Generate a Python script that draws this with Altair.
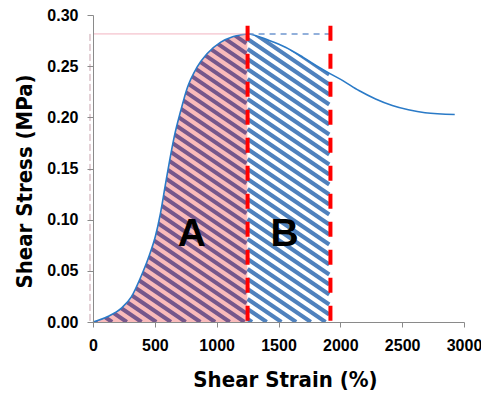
import altair as alt
import pandas as pd

# ---- data ----
strain = [0, 120, 230, 310, 390, 455, 505, 545, 585, 620, 655, 710, 760, 840, 920,
          1030, 1135, 1250, 1430, 1560, 1700, 1830, 1920, 2020, 2150, 2285, 2420,
          2550, 2685, 2925]
stress = [0, 0.0054, 0.0136, 0.0245, 0.045, 0.065, 0.084, 0.106, 0.134, 0.158,
          0.18, 0.2067, 0.228, 0.2488, 0.2619, 0.2732, 0.279, 0.2815, 0.2748,
          0.2683, 0.2586, 0.2488, 0.2425, 0.2359, 0.2262, 0.218, 0.2116, 0.2074,
          0.2045, 0.2028]

region_names = ["A", "B"]
region_start = [0, 1250]
region_end = [1250, 1920]
region_label_x = [800, 1550]
region_label_y = [0.074, 0.074]
region_fill = ["#f9bbbb", "#ffffff"]
region_stripe = ["#76578b", "#4f81bd"]

peak_strain = 1250
peak_stress = 0.2815
marker_top = 0.2895

x_ticks = [0, 500, 1000, 1500, 2000, 2500, 3000]
y_ticks = [0.0, 0.05, 0.10, 0.15, 0.20, 0.25, 0.30]

# ---- layout ----
W, H = 371, 307
XMAX, YMAX = 3000, 0.30
sx, sy = W / XMAX, H / YMAX

NARROW = "Liberation Sans Narrow, DejaVu Sans Condensed, Arial Narrow, sans-serif"
BOLD = "Liberation Sans, Arial, sans-serif"

curve = pd.DataFrame({"strain": strain, "stress": stress, "top": peak_stress + 0.008})
regions = pd.DataFrame({"region": region_names, "start": region_start, "end": region_end,
                        "top": peak_stress, "lx": region_label_x, "ly": region_label_y})

# diagonal hatching (decoration), clipped to each region's rectangle
t = 0.68
step = 10.0
rows = []
for name, a, b in zip(region_names, region_start, region_end):
    u0, u1 = a * sx, b * sx - 1.2
    V = peak_stress * sy
    c = t * u0 + 3
    while c < V + t * u1:
        us = max(u0, (c - V) / t)
        ue = min(u1, c / t)
        if ue > us:
            rows.append({"region": name, "x": us / sx, "x2": ue / sx,
                         "y": (c - t * us) / sy, "y2": (c - t * ue) / sy})
        c += step
stripes = pd.DataFrame(rows)

x_scale = alt.Scale(domain=[0, XMAX], nice=False, zero=False)
y_scale = alt.Scale(domain=[0, YMAX], nice=False, zero=False)

x_axis = alt.Axis(values=x_ticks, format="d", title="Shear Strain (%)", grid=False,
                  labelFont=BOLD, labelFontSize=16, labelFontWeight="bold", labelColor="black",
                  titleFont=NARROW, titleFontSize=22, titleFontWeight="bold", titleColor="black",
                  domainColor="#8a8a8a", tickColor="#8a8a8a", tickSize=5, labelPadding=10,
                  titleX=192, titleY=64, titleBaseline="alphabetic", titleAlign="center",
                  labelFlush=False, labelOverlap=False, zindex=1)
y_axis = alt.Axis(values=y_ticks, format=".2f", title="Shear Stress (MPa)", grid=False,
                  labelFont=BOLD, labelFontSize=16, labelFontWeight="bold", labelColor="black",
                  titleFont=NARROW, titleFontSize=22, titleFontWeight="bold", titleColor="black",
                  domainColor="#8a8a8a", tickColor="#8a8a8a", tickSize=6, labelPadding=9,
                  titleAngle=270, titleX=-69, titleY=166, titleAlign="center",
                  titleBaseline="middle", labelFlush=False, labelOverlap=False, zindex=1)


def X(f):
    return alt.X(f, type="quantitative", scale=x_scale, axis=x_axis)


def Y(f):
    return alt.Y(f, type="quantitative", scale=y_scale, axis=y_axis)


fills = alt.Chart(regions).mark_rect().encode(
    x=X("start"), x2="end", y=Y("top"), y2=alt.Y2Datum(0),
    fill=alt.Fill("region:N", scale=alt.Scale(domain=region_names, range=region_fill), legend=None),
)

hatch = alt.Chart(stripes).mark_rule(strokeWidth=4, clip=True).encode(
    x=X("x"), x2="x2", y=Y("y"), y2="y2",
    color=alt.Color("region:N", scale=alt.Scale(domain=region_names, range=region_stripe), legend=None),
)

mask = alt.Chart(curve).mark_area(color="white", interpolate="monotone", opacity=1).encode(
    x=X("strain"), y=Y("stress"), y2="top"
)

line = alt.Chart(curve).mark_line(color="#2a7ac7", strokeWidth=1.6, interpolate="monotone").encode(
    x=X("strain"), y=Y("stress")
)

peak_df = pd.DataFrame({"x0": [0], "xp": [peak_strain], "xe": [region_end[1]], "yp": [peak_stress]})

pink_h = alt.Chart(peak_df).mark_rule(color="#f2b3c0", strokeWidth=1).encode(
    x=X("x0"), x2="xp", y=Y("yp"))
blue_h = alt.Chart(peak_df).mark_rule(color="#6f96cf", strokeWidth=1.5, strokeDash=[6, 5]).encode(
    x=X("xp"), x2="xe", y=Y("yp"))
pink_v = alt.Chart(peak_df).mark_rule(color="#c9a3ad", strokeWidth=1, strokeDash=[7, 3], xOffset=-3).encode(
    x=X("x0"), y=Y("yp"), y2=alt.Y2Datum(0))

bounds = pd.DataFrame({"b": [region_start[1], region_end[1]], "top": marker_top})
red = alt.Chart(bounds).mark_rule(color="#ff0000", strokeWidth=4, strokeDash=[15, 13]).encode(
    x=X("b"), y=Y("top"), y2=alt.Y2Datum(0))

labels = alt.Chart(regions).mark_text(font=BOLD, fontSize=39, fontWeight="bold", color="black",
                                      baseline="alphabetic", align="center").encode(
    x=X("lx"), y=Y("ly"), text="region:N")

chart = alt.layer(fills, hatch, mask, line, pink_h, blue_h, pink_v, red, labels).properties(
    width=W, height=H,
    padding={"left": 85, "top": 7, "right": 17, "bottom": 70},
    autosize=alt.AutoSizeParams(type="none"),
).configure_view(stroke=None).resolve_scale(color="independent", fill="independent")

chart.save("out.html", embed_options={"renderer": "svg", "actions": False})
